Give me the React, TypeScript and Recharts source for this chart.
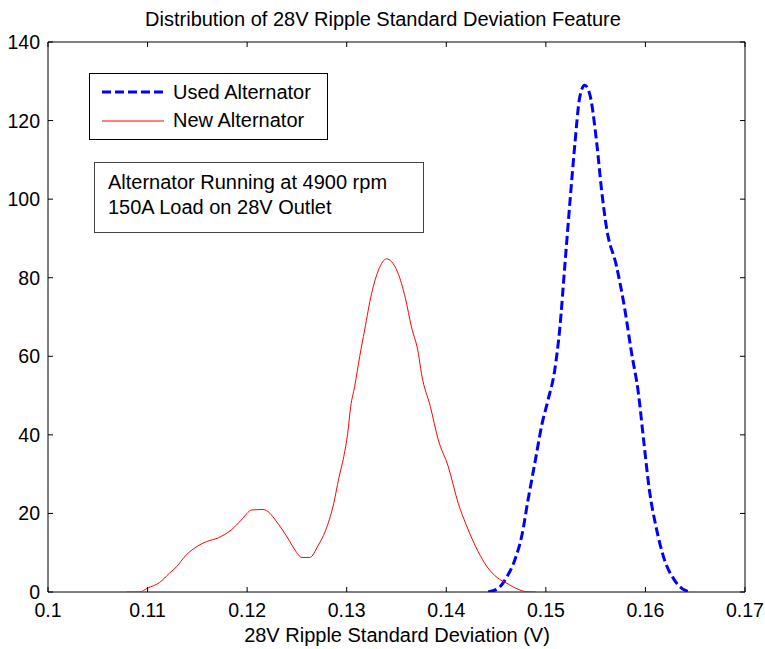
import {
  LineChart,
  Line,
  XAxis,
  YAxis,
  ReferenceArea,
} from "recharts";

// New alternator (red) density estimate
const newX = [
  0.1079, 0.1092, 0.11, 0.1112, 0.1122, 0.1129, 0.1138, 0.1149, 0.1159, 0.1171,
  0.1184, 0.1194, 0.1205, 0.1216, 0.1223, 0.1229, 0.1235, 0.1243, 0.1248, 0.1255,
  0.1263, 0.1271, 0.128, 0.1287, 0.1292, 0.1297, 0.1301, 0.1304, 0.1308, 0.1313,
  0.1318, 0.1325, 0.1332, 0.134, 0.1345, 0.1351, 0.1359, 0.1365, 0.1372, 0.1375,
  0.1384, 0.1392, 0.1402, 0.1412, 0.142, 0.1432, 0.1441, 0.1451, 0.1461, 0.1472,
  0.148, 0.149,
];
const newY = [
  0, 0, 1, 2.4, 4.8, 6.4, 9.2, 11.5, 12.8, 13.8,
  15.8, 18.3, 20.9, 21.0, 20.0, 18.1, 16.0, 12.8, 10.7, 8.8,
  8.8, 11.7, 16.5, 22.6, 28.9, 34.4, 40.4, 47.2, 52.3, 59.9,
  66.7, 76.0, 82.0, 84.8, 84.1, 81.5, 74.7, 67.5, 60.7, 55.7,
  47.2, 38.7, 31.9, 22.6, 17.1, 10.3, 6.4, 3.7, 2.2, 0.7,
  0.1, 0,
];

// Used alternator (blue dashed)
const usedX = [
  0.1442, 0.1452, 0.1461, 0.1469, 0.1476, 0.1482, 0.1489, 0.1496, 0.1502, 0.1509,
  0.1514, 0.1519, 0.1524, 0.1529, 0.1534, 0.1539, 0.1544, 0.1551, 0.1556, 0.1561,
  0.1571, 0.1579, 0.1586, 0.1593, 0.1598, 0.1604, 0.1611, 0.1619, 0.1629, 0.164,
  0.1646,
];
const usedY = [
  0, 0.9, 3.9, 8.3, 14.5, 23.3, 32.9, 42.6, 48.7, 56.6,
  67.1, 82.9, 98.7, 113.6, 125.9, 129.0, 126.8, 114.5, 102.2, 92.6,
  82.9, 72.4, 61.0, 50.5, 39.1, 25.9, 16.2, 8.3, 3.1, 0.4,
  0,
];

const xTicks = [0.1, 0.11, 0.12, 0.13, 0.14, 0.15, 0.16, 0.17];
const yTicks = [0, 20, 40, 60, 80, 100, 120, 140];

const seriesNames = ["Used Alternator", "New Alternator"];
const noteLines = ["Alternator Running at 4900 rpm", "150A Load on 28V Outlet"];

const newData = newX.map((x, i) => ({ x, y: newY[i] }));
const usedData = usedX.map((x, i) => ({ x, y: usedY[i] }));

const FONT = "'Liberation Sans', Arial, Helvetica, sans-serif";
const TXT = 20;
const TICK_FS = 19.5;
const PLOT_W = 697;
const PLOT_H = 550;
const TICK = 5;

function XTick(props: any) {
  const { x, y, payload } = props;
  return (
    <g>
      <line x1={x} y1={y} x2={x} y2={y - TICK} stroke="#000" />
      <line x1={x} y1={y - PLOT_H} x2={x} y2={y - PLOT_H + TICK} stroke="#000" />
      <text x={x} y={y + 25} textAnchor="middle" fontSize={TICK_FS} fontFamily={FONT} fill="#000">
        {payload.value}
      </text>
    </g>
  );
}

function YTick(props: any) {
  const { x, y, payload } = props;
  return (
    <g>
      <line x1={x} y1={y} x2={x + TICK} y2={y} stroke="#000" />
      <line x1={x + PLOT_W} y1={y} x2={x + PLOT_W - TICK} y2={y} stroke="#000" />
      <text x={x - 8} y={y + 7} textAnchor="end" fontSize={TICK_FS} fontFamily={FONT} fill="#000">
        {payload.value}
      </text>
    </g>
  );
}

export default function App() {
  return (
    <div style={{ position: "absolute", left: 0, top: 0, width: 765, height: 649, background: "#fff" }}>
      <LineChart width={765} height={649} margin={{ top: 42, right: 20, left: 0, bottom: 0 }}>
        <XAxis
          dataKey="x"
          type="number"
          domain={[0.1, 0.17]}
          ticks={xTicks}
          allowDataOverflow
          tickSize={0}
          tickMargin={0}
          height={57}
          tick={<XTick />}
          axisLine={false}
        />
        <YAxis
          dataKey="y"
          type="number"
          domain={[0, 140]}
          ticks={yTicks}
          allowDataOverflow
          tickSize={0}
          tickMargin={0}
          width={48}
          tick={<YTick />}
          axisLine={false}
        />
        <ReferenceArea
          x1={0.1}
          x2={0.17}
          y1={0}
          y2={140}
          fill="none"
          stroke="#000"
          strokeWidth={1}
          ifOverflow="visible"
        />
        <Line
          data={usedData}
          dataKey="y"
          type="monotone"
          stroke="#0000ff"
          strokeWidth={3}
          strokeDasharray="9 4"
          dot={false}
          isAnimationActive={false}
          name={seriesNames[0]}
        />
        <Line
          data={newData}
          dataKey="y"
          type="monotone"
          stroke="#ff0000"
          strokeWidth={1}
          dot={false}
          isAnimationActive={false}
          name={seriesNames[1]}
        />
      </LineChart>

      {/* title, axis label, legend and note drawn on top, MATLAB style */}
      <svg
        width={765}
        height={649}
        style={{ position: "absolute", left: 0, top: 0, pointerEvents: "none" }}
        fontFamily={FONT}
      >
        <text x={383} y={26} textAnchor="middle" fontSize={TXT} fill="#000">
          Distribution of 28V Ripple Standard Deviation Feature
        </text>
        <text x={397} y={642} textAnchor="middle" fontSize={TXT} fill="#000">
          28V Ripple Standard Deviation (V)
        </text>

        <rect x={89.5} y={73.5} width={238} height={66} fill="#fff" stroke="#000" />
        <line x1={102} y1={92} x2={164} y2={92} stroke="#0000ff" strokeWidth={3} strokeDasharray="9 4" />
        <text x={173} y={98.5} fontSize={TXT} fill="#000">{seriesNames[0]}</text>
        <line x1={102} y1={121} x2={164} y2={121} stroke="#ff0000" strokeWidth={1} />
        <text x={173} y={127} fontSize={TXT} fill="#000">{seriesNames[1]}</text>

        <rect x={94.5} y={162.5} width={329} height={70} fill="#fff" stroke="#444" />
        {noteLines.map((t, i) => (
          <text key={i} x={108} y={189 + i * 25} fontSize={TXT} fill="#000">
            {t}
          </text>
        ))}
      </svg>
    </div>
  );
}
